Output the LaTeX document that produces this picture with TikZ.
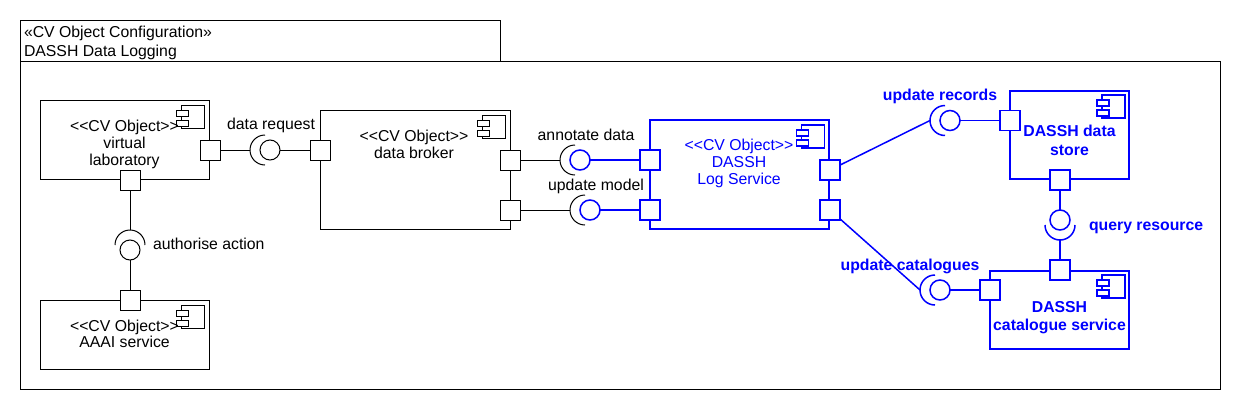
\documentclass[tikz,border=0pt]{standalone}
\usepackage{fontspec}
\setmainfont{Liberation Sans}
\definecolor{ublue}{RGB}{0,0,255}
\newcommand\dlt{<\kern0pt<}
\newcommand\dgt{>\kern0pt>}
\tikzset{
  every node/.style={font=\fontsize{15.8}{17}\selectfont, inner sep=0pt, outer sep=0pt},
  blk/.style={draw=black, line width=1pt},
  bl/.style={draw=ublue, line width=1.5pt},
  box/.style={rectangle, anchor=north west, fill=white},
  port/.style={rectangle, fill=white, minimum size=20pt},
  lolly/.style={circle, fill=white, minimum size=20pt},
  lab/.style={anchor=base},
  blab/.style={anchor=base, text=ublue, font=\fontsize{15.8}{17}\selectfont\bfseries},
  cicon/.pic={
    \draw[fill=white] (-23,0) rectangle (0,-23);
    \draw[fill=white] (-28,-5) rectangle (-16,-11);
    \draw[fill=white] (-28,-15) rectangle (-16,-21);
  }
}
\begin{document}
\begin{tikzpicture}[x=1pt,y=1pt,line width=1pt]
\useasboundingbox (0,0) rectangle (1240,-410);
% frame
\node[box, blk, minimum width=480pt, minimum height=41pt] (tab) at (20,-20) {};
\node[box, blk, minimum width=1200pt, minimum height=328pt] (frame) at (20,-61) {};
\node[anchor=base west] (t1) at (24,-37.5) {«CV Object Configuration»};
\node[anchor=base west] (t2) at (24,-56.5) {DASSH Data Logging};
% components
\node[box, blk, minimum width=169pt, minimum height=79pt] (vl) at (40,-100) {};
\node[box, blk, minimum width=190pt, minimum height=119pt] (db) at (320,-110) {};
\node[box, bl, minimum width=179pt, minimum height=109pt] (ls) at (650,-120) {};
\node[box, bl, minimum width=119pt, minimum height=88pt] (ds) at (1010,-91) {};
\node[box, bl, minimum width=139pt, minimum height=78pt] (cs) at (990,-271) {};
\node[box, blk, minimum width=169pt, minimum height=69pt] (aa) at (40,-300) {};
% interface coordinates
\coordinate (drS) at (250,-150);
\coordinate (adS) at (560,-160);
\coordinate (umS) at (570,-210);
\coordinate (urS) at (930,-120.5);
\coordinate (ucS) at (920,-290);
\coordinate (auS) at (130,-230);
\coordinate (qrS) at (1060,-240);
% ports
\node[port, blk] (vlR) at (210,-150) {};
\node[port, blk] (vlB) at (130,-180) {};
\node[port, blk] (dbL) at (320,-150) {};
\node[port, blk] (dbR1) at (510,-160) {};
\node[port, blk] (dbR2) at (510,-210) {};
\node[port, blk] (aaT) at (130,-300) {};
\node[port, bl] (lsL1) at (650,-160) {};
\node[port, bl] (lsL2) at (650,-210) {};
\node[port, bl] (lsR1) at (830,-170) {};
\node[port, bl] (lsR2) at (830,-210) {};
\node[port, bl] (dsL) at (1010,-120.5) {};
\node[port, bl] (dsB) at (1060,-180) {};
\node[port, bl] (csT) at (1060,-270) {};
\node[port, bl] (csL) at (990,-290) {};
% provided interfaces
\node[lolly, blk] (drC) at (270,-150) {};
\node[lolly, bl] (adC) at (580,-160) {};
\node[lolly, bl] (umC) at (590,-210) {};
\node[lolly, bl] (urC) at (950,-120.5) {};
\node[lolly, bl] (ucC) at (940,-290) {};
\node[lolly, blk] (auC) at (130,-250) {};
\node[lolly, bl] (qrC) at (1060,-220) {};
% connectors
\draw[blk] (vlR) -- (drS);
\draw[blk] (drC) -- (dbL);
\draw[blk] (dbR1) -- (adS);
\draw[bl] (adC) -- (lsL1);
\draw[blk] (dbR2) -- (umS);
\draw[bl] (umC) -- (lsL2);
\draw[bl] (lsR1) -- (urS);
\draw[bl] (urC) -- (dsL);
\draw[bl] (lsR2) -- (ucS);
\draw[bl] (ucC) -- (csL);
\draw[bl] (dsB) -- (qrC);
\draw[bl] (qrS) -- (csT);
\draw[blk] (vlB) -- (auS);
\draw[blk] (auC) -- (aaT);
% sockets
\draw[blk] (drS) ++(15,15) arc[start angle=90, end angle=270, radius=15];
\draw[blk] (adS) ++(15,15) arc[start angle=90, end angle=270, radius=15];
\draw[blk] (umS) ++(15,15) arc[start angle=90, end angle=270, radius=15];
\draw[bl] (urS) ++(15,15) arc[start angle=90, end angle=270, radius=15];
\draw[bl] (ucS) ++(15,15) arc[start angle=90, end angle=270, radius=15];
\draw[blk] (auS) ++(15,-15) arc[start angle=0, end angle=180, radius=15];
\draw[bl] (qrS) ++(-15,15) arc[start angle=180, end angle=360, radius=15];
% icons
\pic[line width=1pt] at (204.5,-105) {cicon};
\pic[line width=1pt] at (505,-115) {cicon};
\pic[color=ublue, line width=1.5pt] at (824.5,-125) {cicon};
\pic[color=ublue, line width=1.5pt] at (1125,-95) {cicon};
\pic[color=ublue, line width=1.5pt] at (1125,-275) {cicon};
\pic[line width=1pt] at (204.5,-305) {cicon};
% component texts
\node[lab] (vlt1) at (124.5,-131) {\dlt CV Object\dgt};
\node[lab] (vlt2) at (124.5,-148) {virtual};
\node[lab] (vlt3) at (124.5,-165) {laboratory};
\node[lab] (dbt1) at (414,-141.5) {\dlt CV Object\dgt};
\node[lab] (dbt2) at (414,-158) {data broker};
\node[lab, text=ublue] (lst1) at (739,-150) {\dlt CV Object\dgt};
\node[lab, text=ublue] (lst2) at (739,-167) {DASSH};
\node[lab, text=ublue] (lst3) at (739,-184) {Log Service};
\node[blab] (dst1) at (1069.5,-136.7) {DASSH data};
\node[blab] (dst2) at (1069.5,-155) {store};
\node[blab] (cst1) at (1059.5,-312) {DASSH};
\node[blab] (cst2) at (1059.5,-330) {catalogue service};
\node[lab] (aat1) at (124.5,-331.7) {\dlt CV Object\dgt};
\node[lab] (aat2) at (124.5,-347.5) {AAAI service};
% interface labels
\node[lab] (drL) at (271,-129) {data request};
\node[lab] (adL) at (586,-140) {annotate data};
\node[lab] (umL) at (596,-190) {update model};
\node[blab] (urL) at (940,-100) {update records};
\node[blab, anchor=base west] (qrL) at (1089,-230) {query resource};
\node[blab] (ucL) at (910,-270) {update catalogues};
\node[lab, anchor=base west] (auL) at (153,-249) {authorise action};
\end{tikzpicture}
\end{document}
